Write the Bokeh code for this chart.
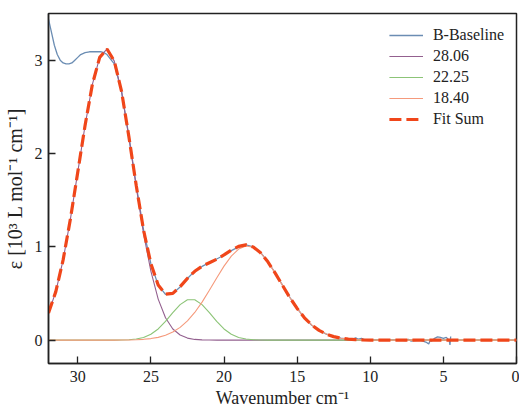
from bokeh.plotting import figure
from bokeh.models import Range1d, Legend, LegendItem
from bokeh.embed import file_html
from bokeh.resources import INLINE
import numpy as np

# Sampling grid of the fitted components (cm^-1), 32 -> 0 in 0.5 steps
wavenumber = np.arange(32.0, -0.25, -0.5)

# Component 28.06
comp_2806 = [0.29, 0.52, 0.86, 1.30, 1.80, 2.30, 2.74, 3.03, 3.12, 2.99,
             2.66, 2.17, 1.64, 1.14, 0.74, 0.44, 0.24, 0.12, 0.055, 0.022,
             0.008, 0.003, 0.001] + [0.0] * 42
# Component 22.25
comp_2225 = [0.0] * 10 + [0.001, 0.004, 0.012, 0.029, 0.063, 0.12, 0.201, 0.295,
             0.381, 0.433, 0.433, 0.381, 0.295, 0.201, 0.12, 0.063, 0.029,
             0.012, 0.004, 0.001] + [0.0] * 35
# Component 18.40
comp_1840 = [0.0] * 10 + [0.001, 0.002, 0.004, 0.009, 0.017, 0.030, 0.052, 0.087,
             0.137, 0.207, 0.297, 0.408, 0.534, 0.666, 0.793, 0.901, 0.976,
             1.009, 0.995, 0.936, 0.839, 0.718, 0.587, 0.457, 0.34, 0.24,
             0.163, 0.105, 0.065, 0.038, 0.021, 0.011, 0.006, 0.003,
             0.001] + [0.0] * 20

# Measured spectrum after baseline subtraction
base_x = [32.0, 31.8, 31.6, 31.4, 31.2, 31.0, 30.8, 30.6, 30.4, 30.2, 30.0,
          29.8, 29.5, 29.2, 29.0, 28.7, 28.4, 28.2, 28.0, 27.8, 27.5, 27.0,
          26.5, 26.0, 25.5, 25.0, 24.5, 24.0, 23.5, 23.0, 22.5, 22.0, 21.5,
          21.0, 20.5, 20.0, 19.5, 19.0, 18.5, 18.0, 17.5, 17.0, 16.5, 16.0,
          15.5, 15.0, 14.5, 14.0, 13.5, 13.0, 12.5, 12.0, 11.5, 11.2, 11.0,
          10.8, 10.6, 10.4, 10.0, 9.0, 8.0, 7.6, 7.4, 7.2, 7.0, 6.6, 6.2,
          6.0, 5.9, 5.8, 5.6, 5.4, 5.2, 5.0, 4.8, 4.6, 4.55, 4.5]
base_y = [3.44, 3.30, 3.16, 3.06, 3.00, 2.97, 2.96, 2.96, 2.97, 3.00, 3.03,
          3.06, 3.08, 3.09, 3.09, 3.09, 3.09, 3.08, 3.06, 3.02, 2.96, 2.66,
          2.18, 1.66, 1.18, 0.82, 0.59, 0.49, 0.50, 0.57, 0.66, 0.74, 0.79,
          0.83, 0.87, 0.91, 0.96, 1.00, 1.02, 1.00, 0.94, 0.84, 0.72, 0.59,
          0.46, 0.34, 0.24, 0.16, 0.105, 0.065, 0.038, 0.021, 0.011, 0.01, 0.025,
          0.01, 0.02, 0.005, 0.0, 0.0, 0.0, -0.005, 0.01, -0.01, -0.005, 0.0, -0.02,
          -0.04, 0.0, -0.01, 0.02, 0.035, 0.03, 0.02, 0.03, 0.0, -0.05, 0.04]

fit_sum = [a + b + c for a, b, c in zip(comp_2806, comp_2225, comp_1840)]

x_ticks = [30, 25, 20, 15, 10, 5, 0]
y_ticks = [0, 1, 2, 3]

FONT = "Liberation Serif"

p = figure(width=519, height=410, output_backend="svg", toolbar_location=None,
           x_range=Range1d(32, 0), y_range=Range1d(-0.25, 3.5),
           min_border_left=47, min_border_right=3, min_border_top=13,
           min_border_bottom=46)

p.xgrid.visible = False
p.ygrid.visible = False
p.outline_line_color = "#222222"
p.outline_line_width = 1.5
p.background_fill_color = "white"
p.border_fill_color = "white"

r_base = p.line(base_x, base_y, line_color="#6b8db3", line_width=1.3)
r1 = p.line(wavenumber, comp_2806, line_color="#93608f", line_width=1.1)
r2 = p.line(wavenumber, comp_2225, line_color="#8cc477", line_width=1.1)
r3 = p.line(wavenumber, comp_1840, line_color="#f59a7c", line_width=1.1)
r_fit = p.line(wavenumber, fit_sum, line_color="#f0461a", line_width=3.2,
               line_dash="12 5")

legend = Legend(items=[
    LegendItem(label="B-Baseline", renderers=[r_base]),
    LegendItem(label="28.06", renderers=[r1]),
    LegendItem(label="22.25", renderers=[r2]),
    LegendItem(label="18.40", renderers=[r3]),
    LegendItem(label="Fit Sum", renderers=[r_fit]),
], location="top_right")
legend.border_line_color = None
legend.background_fill_alpha = 0
legend.label_text_font = FONT
legend.label_text_font_size = "16px"
legend.label_text_font_style = "normal"
legend.label_text_color = "#222222"
legend.glyph_width = 34
legend.glyph_height = 20
legend.label_height = 20
legend.spacing = 1
legend.padding = 8
legend.margin = 12
legend.label_standoff = 10
p.add_layout(legend)

for ax in (p.xaxis[0], p.yaxis[0]):
    ax.axis_line_color = "#222222"
    ax.axis_line_width = 1.5
    ax.major_tick_line_color = "#222222"
    ax.minor_tick_line_color = "#222222"
    ax.major_tick_line_width = 1.3
    ax.minor_tick_line_width = 1.1
    ax.major_tick_in = 7
    ax.major_tick_out = 0
    ax.minor_tick_in = 4
    ax.minor_tick_out = 0
    ax.major_label_text_font = FONT
    ax.major_label_text_font_size = "16px"
    ax.major_label_text_font_style = "normal"
    ax.major_label_text_color = "#222222"
    ax.axis_label_text_font = FONT
    ax.axis_label_text_font_size = "18px"
    ax.axis_label_text_font_style = "normal"
    ax.axis_label_text_color = "#222222"

p.yaxis.axis_label_text_font_size = "20px"
p.xaxis.ticker = x_ticks
p.xaxis[0].ticker.num_minor_ticks = 2
p.yaxis.ticker = y_ticks
p.yaxis[0].ticker.num_minor_ticks = 2
p.xaxis.axis_label = "Wavenumber cm\u207b\u00b9"
p.yaxis.axis_label = "\u03b5 [10\u00b3 L mol\u207b\u00b9 cm\u207b\u00b9]"
p.xaxis.major_label_standoff = 7
p.yaxis.major_label_standoff = 6
p.xaxis.axis_label_standoff = 3
p.yaxis.axis_label_standoff = 6

open("out.html", "w").write(file_html(p, INLINE))
